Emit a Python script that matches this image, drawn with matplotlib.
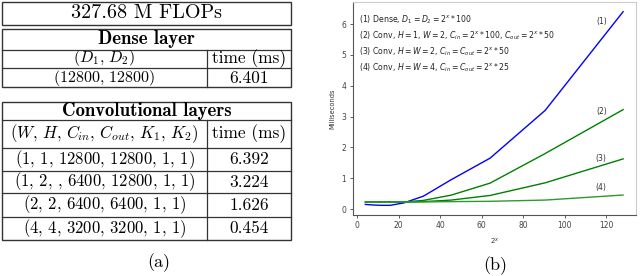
import matplotlib
matplotlib.use("Agg")
import matplotlib.pyplot as plt
from matplotlib.patches import Rectangle
from matplotlib.lines import Line2D

# ---- data ----
sizes = [4, 5.66, 8, 11.31, 16, 22.63, 32, 45.25, 64, 90.51, 128]
dense = [0.15, 0.14, 0.13, 0.12, 0.12, 0.20, 0.42, 0.95, 1.65, 3.20, 6.401]
conv_h1_w2 = [0.23, 0.23, 0.23, 0.23, 0.23, 0.23, 0.28, 0.45, 0.84, 1.80, 3.224]
conv_h2_w2 = [0.22, 0.22, 0.22, 0.22, 0.22, 0.22, 0.24, 0.29, 0.44, 0.85, 1.626]
conv_h4_w4 = [0.22, 0.22, 0.22, 0.22, 0.22, 0.23, 0.23, 0.24, 0.25, 0.29, 0.454]

series_labels = ["(1)", "(2)", "(3)", "(4)"]
legend_lines = [
    r"(1) Dense, $D_1 = D_2 = 2^x * 100$",
    r"(2) Conv, $H = 1$, $W = 2$, $C_{in} = 2^x * 100$, $C_{out} = 2^x * 50$",
    r"(3) Conv, $H = W = 2$, $C_{in} = C_{out} = 2^x * 50$",
    r"(4) Conv, $H = W = 4$, $C_{in} = C_{out} = 2^x * 25$",
]

table_title = "327.68 M FLOPs"
dense_header = [r"$(D_1,\, D_2)$", "time (ms)"]
dense_rows = [(r"$(12800,\, 12800)$", "6.401")]
conv_header = [r"$(W,\, H,\, C_{in},\, C_{out},\, K_1,\, K_2)$", "time (ms)"]
conv_rows = [
    (r"$(1,\, 1,\, 12800,\, 12800,\, 1,\, 1)$", "6.392"),
    (r"$(1,\, 2,\, ,\, 6400,\, 12800,\, 1,\, 1)$", "3.224"),
    (r"$(2,\, 2,\, 6400,\, 6400,\, 1,\, 1)$", "1.626"),
    (r"$(4,\, 4,\, 3200,\, 3200,\, 1,\, 1)$", "0.454"),
]

W, H = 640, 276
fig = plt.figure(figsize=(6.4, 2.76), dpi=100)


def fx(px):
    return px / W


def fy(py):
    return 1 - py / H


def box(x0, y0, x1, y1):
    fig.patches.append(Rectangle((fx(x0), fy(y1)), fx(x1) - fx(x0), fy(y0) - fy(y1),
                                 transform=fig.transFigure, fill=False,
                                 edgecolor="#333333", lw=1.0))


def hline(y, x0=2, x1=291):
    fig.lines.append(Line2D([fx(x0), fx(x1)], [fy(y), fy(y)],
                            transform=fig.transFigure, color="#333333", lw=0.9))


def vline(x, y0, y1):
    fig.lines.append(Line2D([fx(x), fx(x)], [fy(y0), fy(y1)],
                            transform=fig.transFigure, color="#333333", lw=0.9))


def cell(x, y, s, family="cmr10", size=12):
    fig.text(fx(x), fy(y), s, ha="center", va="center", fontsize=size,
             math_fontfamily="cm", family=family)


L, R, D = 2, 291, 207
cl, cr = (L + D) / 2, (D + R) / 2

# table (a)
box(L, 2, R, 25)
cell((L + R) / 2, 13.5, table_title, size=14.5)

box(L, 29, R, 87)
hline(50)
hline(68)
vline(D, 50, 87)
cell((L + R) / 2, 39.5, "Dense layer", family="cmb10", size=13.5)
cell(cl, 58.5, dense_header[0], size=11.5)
cell(cr, 59, dense_header[1], size=12.5)
for s, t in dense_rows:
    cell(cl, 78, s, size=11.5)
    cell(cr, 78, t, size=12.5)

box(L, 102, R, 240)
row_edges = [120, 148, 171, 193, 217, 240]
for y in row_edges[:-1]:
    hline(y)
vline(D, 120, 240)
cell((L + R) / 2, 111, "Convolutional layers", family="cmb10", size=13.5)
cell(cl, 134, conv_header[0])
cell(cr, 134, conv_header[1], size=12.5)
for i, (s, t) in enumerate(conv_rows):
    yc = (row_edges[i + 1] + row_edges[i + 2]) / 2
    cell(cl, yc, s)
    cell(cr, yc, t, size=12.5)

cell(159, 263, "(a)", size=13)

# plot (b)
ax = fig.add_axes([fx(352.5), fy(215), fx(636) - fx(352.5), fy(2) - fy(215)])
ax.plot(sizes, dense, color="b", lw=1.0)
ax.plot(sizes, conv_h1_w2, color="g", lw=1.0)
ax.plot(sizes, conv_h2_w2, color="g", lw=1.0)
ax.plot(sizes, conv_h4_w4, color="#2e9a2e", lw=1.0)

ends = [dense[-1], conv_h1_w2[-1], conv_h2_w2[-1], conv_h4_w4[-1]]
offs = [-0.33, -0.07, 0.01, 0.24]
for lab, e, o in zip(series_labels, ends, offs):
    ax.text(117.5, e + o, lab, fontsize=5.5, color="#333333", ha="center", va="center")

for i, s in enumerate(legend_lines):
    ax.text(0.024, 0.915 - i * 0.0745, s, transform=ax.transAxes, fontsize=5.6,
            color="#222222", va="center", ha="left")

ax.set_xticks([0, 20, 40, 60, 80, 100, 120])
ax.set_yticks([0, 1, 2, 3, 4, 5, 6])
ax.tick_params(labelsize=5.5, length=2.5, width=0.6, colors="#444444", pad=2)
ax.set_ylabel("Milliseconds", fontsize=4.8, color="#333333", labelpad=4)
ax.set_xlabel(r"$2^x$", fontsize=5, color="#333333", labelpad=4)
for side in ["left", "bottom"]:
    ax.spines[side].set_color("#555555")
    ax.spines[side].set_linewidth(0.8)
for side in ["top", "right"]:
    ax.spines[side].set_color("#cccccc")
    ax.spines[side].set_linewidth(0.8)

fig.text(fx(495), fy(265.5), "(b)", ha="center", va="center", fontsize=13,
         family="cmr10")

fig.savefig("out.png", dpi=100)
